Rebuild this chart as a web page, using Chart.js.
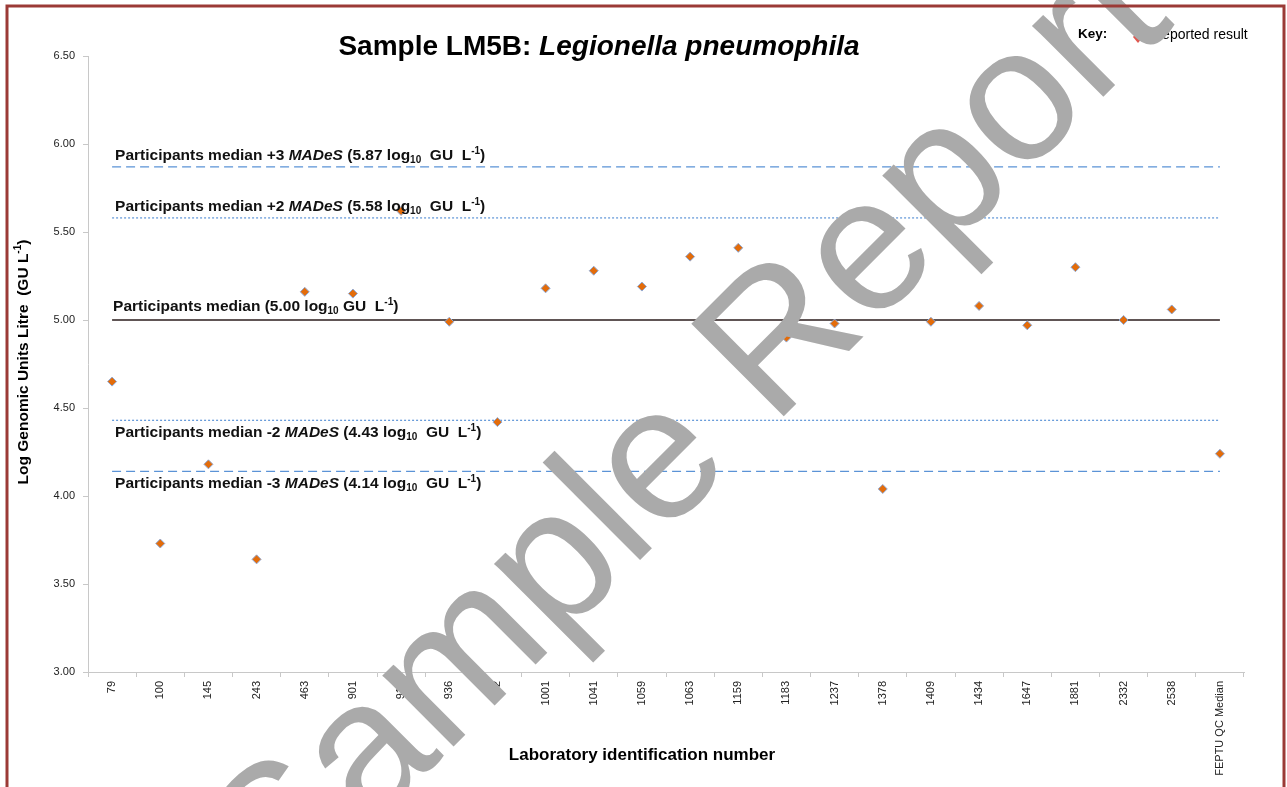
<!DOCTYPE html>
<html><head><meta charset="utf-8">
<script src="https://cdn.jsdelivr.net/npm/chart.js@4/dist/chart.umd.min.js"></script>
<style>html,body{margin:0;padding:0;background:#fff;overflow:hidden}#wrap{position:relative;width:1287px;height:787px}</style>
</head><body><div id="wrap"><canvas id="c" width="1287" height="787"></canvas></div>
<script>
// ---- data ----
const labs = ['79','100','145','243','463','901','918','936','942','1001','1041','1059','1063','1159','1183','1237','1378','1409','1434','1647','1881','2332','2538','FEPTU QC Median'];
const results = [4.65,3.73,4.18,3.64,5.16,5.15,5.62,4.99,4.42,5.18,5.28,5.19,5.36,5.41,4.90,4.98,4.04,4.99,5.08,4.97,5.30,5.00,5.06,4.24];
const refLevels = [5.87, 5.58, 5.00, 4.43, 4.14];
const refTags = ['+3', '+2', '', '-2', '-3'];
const yMin = 3.0, yMax = 6.5, yStep = 0.5;

const FONT = '"Liberation Sans", Arial, sans-serif';
const blue = '#5b93d6';
const refStyles = [
  {color: blue, dash: [9,5], width: 1.3},
  {color: blue, dash: [2,2], width: 1.2},
  {color: '#2b1d1d', dash: [], width: 1.6},
  {color: blue, dash: [2,2], width: 1.2},
  {color: blue, dash: [9,5], width: 1.3}
];

const datasets = [{
  label: 'Reported result',
  data: results,
  showLine: false,
  pointStyle: 'rectRot',
  pointRadius: 4.5,
  backgroundColor: '#e36c0a',
  borderColor: '#8fa9d6',
  borderWidth: 1,
  order: 0
}];
refLevels.forEach((v, i) => {
  datasets.push({
    label: 'ref' + i,
    data: [{x: labs[0], y: v}, {x: labs[labs.length - 1], y: v}],
    borderColor: refStyles[i].color,
    borderDash: refStyles[i].dash,
    borderWidth: refStyles[i].width,
    pointRadius: 0,
    fill: false,
    order: 1
  });
});

function drawRich(ctx, x, y, segs) {
  ctx.textAlign = 'left';
  ctx.textBaseline = 'alphabetic';
  for (const s of segs) {
    ctx.font = s.f;
    ctx.fillText(s.t, x, y + (s.dy || 0));
    x += ctx.measureText(s.t).width;
  }
  return x;
}
function richWidth(ctx, segs) {
  let w = 0;
  for (const s of segs) { ctx.font = s.f; w += ctx.measureText(s.t).width; }
  return w;
}

const deco = {
  id: 'deco',
  beforeDraw(chart) {
    const ctx = chart.ctx;
    ctx.save();
    ctx.fillStyle = '#fff';
    ctx.fillRect(0, 0, chart.width, chart.height);
    ctx.restore();
  },
  afterDatasetsDraw(chart) {
    const ctx = chart.ctx;
    const xs = chart.scales.x, ys = chart.scales.y;
    const B = 'bold 15.5px ' + FONT, BI = 'italic bold 15.5px ' + FONT, S = 'bold 10px ' + FONT;
    ctx.save();
    ctx.fillStyle = '#111';
    refLevels.forEach((v, i) => {
      const yl = ys.getPixelForValue(v);
      const x0 = xs.getPixelForValue(0) + 3;
      let segs;
      if (refTags[i]) {
        segs = [
          {t: 'Participants median ' + refTags[i] + ' ', f: B},
          {t: 'MADeS', f: BI},
          {t: ' (' + v.toFixed(2) + ' log', f: B},
          {t: '10', f: S, dy: 3},
          {t: '  GU  L', f: B},
          {t: '-1', f: S, dy: -6},
          {t: ')', f: B}
        ];
      } else {
        segs = [
          {t: 'Participants median (' + v.toFixed(2) + ' log', f: B},
          {t: '10', f: S, dy: 3},
          {t: ' GU  L', f: B},
          {t: '-1', f: S, dy: -6},
          {t: ')', f: B}
        ];
      }
      const dy = v > 5.01 ? -7 : (v < 4.99 ? 17 : -9);
      drawRich(ctx, refTags[i] ? x0 : x0 - 2, yl + dy, segs);
    });
    ctx.restore();
  },
  afterDraw(chart) {
    const ctx = chart.ctx;
    ctx.save();
    // title
    ctx.fillStyle = '#000';
    const tsegs = [{t: 'Sample LM5B: ', f: 'bold 28px ' + FONT}, {t: 'Legionella pneumophila', f: 'italic bold 28px ' + FONT}];
    const tw = richWidth(ctx, tsegs);
    drawRich(ctx, 599 - tw / 2, 55, tsegs);
    // key
    ctx.font = 'bold 13.5px ' + FONT;
    ctx.fillText('Key:', 1078, 38);
    ctx.beginPath();
    ctx.moveTo(1138, 31); ctx.lineTo(1143, 37); ctx.lineTo(1138, 43); ctx.lineTo(1133, 37); ctx.closePath();
    ctx.fillStyle = '#e0574f'; ctx.fill();
    ctx.fillStyle = '#000';
    ctx.font = '14px ' + FONT;
    ctx.fillText('Reported result', 1152, 39);
    // x axis title
    ctx.font = 'bold 17px ' + FONT;
    ctx.textAlign = 'center';
    ctx.fillText('Laboratory identification number', 642, 760);
    // y axis title
    ctx.save();
    ctx.translate(28, 362);
    ctx.rotate(-Math.PI / 2);
    const ysegs = [{t: 'Log Genomic Units Litre  (GU L', f: 'bold 15.5px ' + FONT}, {t: '-1', f: 'bold 10px ' + FONT, dy: -7}, {t: ')', f: 'bold 15.5px ' + FONT}];
    const yw = richWidth(ctx, ysegs);
    drawRich(ctx, -yw / 2, 0, ysegs);
    ctx.restore();
    // watermark
    ctx.save();
    ctx.translate(728, 472);
    ctx.rotate(-Math.PI / 4);
    ctx.font = '190px ' + FONT;
    ctx.fillStyle = '#aaaaaa';
    ctx.textAlign = 'center';
    ctx.textBaseline = 'alphabetic';
    ctx.fillText('Sample Report', 0, 0);
    ctx.restore();
    // border
    ctx.strokeStyle = '#9b3a36';
    ctx.lineWidth = 3;
    ctx.strokeRect(7, 6, 1277, 830);
    ctx.restore();
  }
};

new Chart(document.getElementById('c'), {
  type: 'line',
  data: {labels: labs, datasets},
  plugins: [deco],
  options: {
    responsive: false,
    animation: false,
    events: [],
    devicePixelRatio: 1,
    layout: {padding: {top: 56, left: 0, right: 43, bottom: 0}},
    plugins: {legend: {display: false}, title: {display: false}, tooltip: {enabled: false}},
    scales: {
      x: {
        type: 'category',
        offset: true,
        grid: {offset: true, drawOnChartArea: false, drawTicks: true, tickLength: 5, color: '#c8c8c8'},
        border: {color: '#c8c8c8'},
        ticks: {autoSkip: false, maxRotation: 90, minRotation: 90, padding: 4, color: '#222', font: {family: FONT, size: 11}},
        afterFit(s) { s.height = 115; }
      },
      y: {
        min: yMin, max: yMax,
        grid: {drawOnChartArea: false, drawTicks: true, tickLength: 5, color: '#c8c8c8'},
        border: {color: '#c8c8c8'},
        ticks: {stepSize: yStep, padding: 8, color: '#222', font: {family: FONT, size: 11}, callback: v => Number(v).toFixed(2)},
        afterFit(s) { s.width = 88; }
      }
    }
  }
});
</script></body></html>
